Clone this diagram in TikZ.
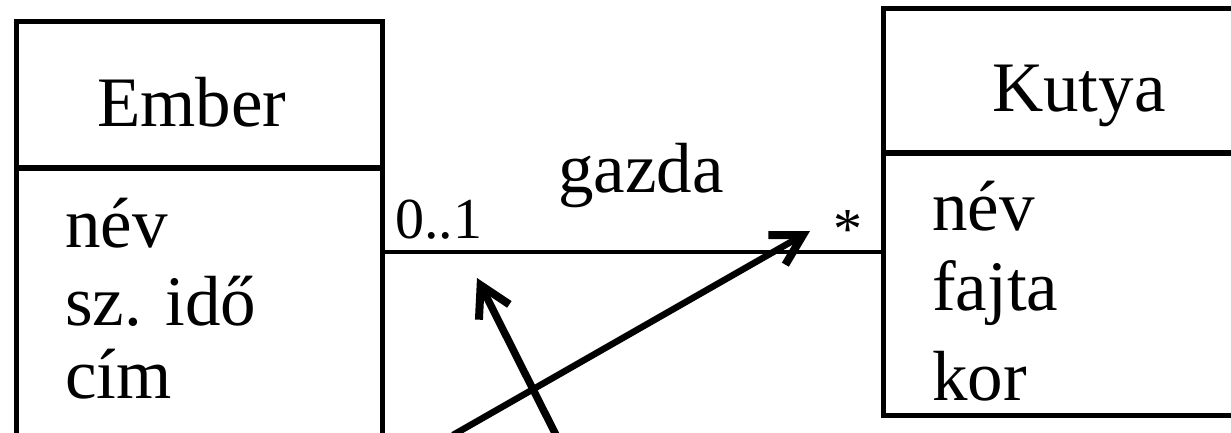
\documentclass[tikz,border=0pt]{standalone}
\usepackage{fontspec}
\setmainfont{Liberation Serif}
\usetikzlibrary{arrows.meta}
\begin{document}
\begin{tikzpicture}[x=1pt,y=-1pt,
  classbox/.style={draw=black, line width=5pt, minimum width=#1, anchor=north west, inner sep=0pt, outer sep=0pt},
  sepline/.style={line width=6pt},
  assoc/.style={line width=3.5pt},
  bigtxt/.style={anchor=base west, inner sep=0pt, font=\fontsize{71}{71}\selectfont},
  multtxt/.style={anchor=base west, inner sep=0pt, font=\fontsize{58}{58}\selectfont},
  pointer/.style={line width=6.5pt, -{Straight Barb[length=30pt, width=34pt, line width=8pt]}}]
\useasboundingbox (0,0) rectangle (1231,433);
\clip (0,0) rectangle (1231,433);
% class boxes
\node[classbox=366pt, minimum height=430pt] (ember) at (16,22) {};
\node[classbox=380pt, minimum height=406pt] (kutya) at (883,9) {};
\coordinate (esep) at (0,168);
\coordinate (ksep) at (0,153);
\draw[sepline] (ember.west |- esep) -- (ember.east |- esep);
\draw[sepline] (kutya.west |- ksep) -- (kutya.east |- ksep);
% texts
\node[bigtxt] (ename) at (97,127) {Ember};
\node[bigtxt] (e1) at (65,247) {név};
\node[bigtxt] (e2) at (65,325) {sz. idő};
\node[bigtxt] (e3) at (65,398) {cím};
\node[bigtxt] (kname) at (992,112) {Kutya};
\node[bigtxt] (k1) at (932,230) {név};
\node[bigtxt] (k2) at (932,310) {fajta};
\node[bigtxt] (k3) at (932,400) {kor};
% association
\coordinate (aline) at (0,252);
\draw[assoc] (ember.east |- aline) -- (kutya.west |- aline);
\node[bigtxt] (role) at (558,192) {gazda};
\node[multtxt] (m1) at (395,238) {0..1};
\node[multtxt] (m2) at (833,248) {*};
% pointer arrows
\coordinate (t1) at (453,435);
\coordinate (h1) at (810,231);
\coordinate (t2) at (556,435);
\coordinate (h2) at (477,278);
\draw[pointer] (t1) -- (h1);
\draw[pointer, line width=7.5pt] (t2) -- (h2);
\end{tikzpicture}
\end{document}
